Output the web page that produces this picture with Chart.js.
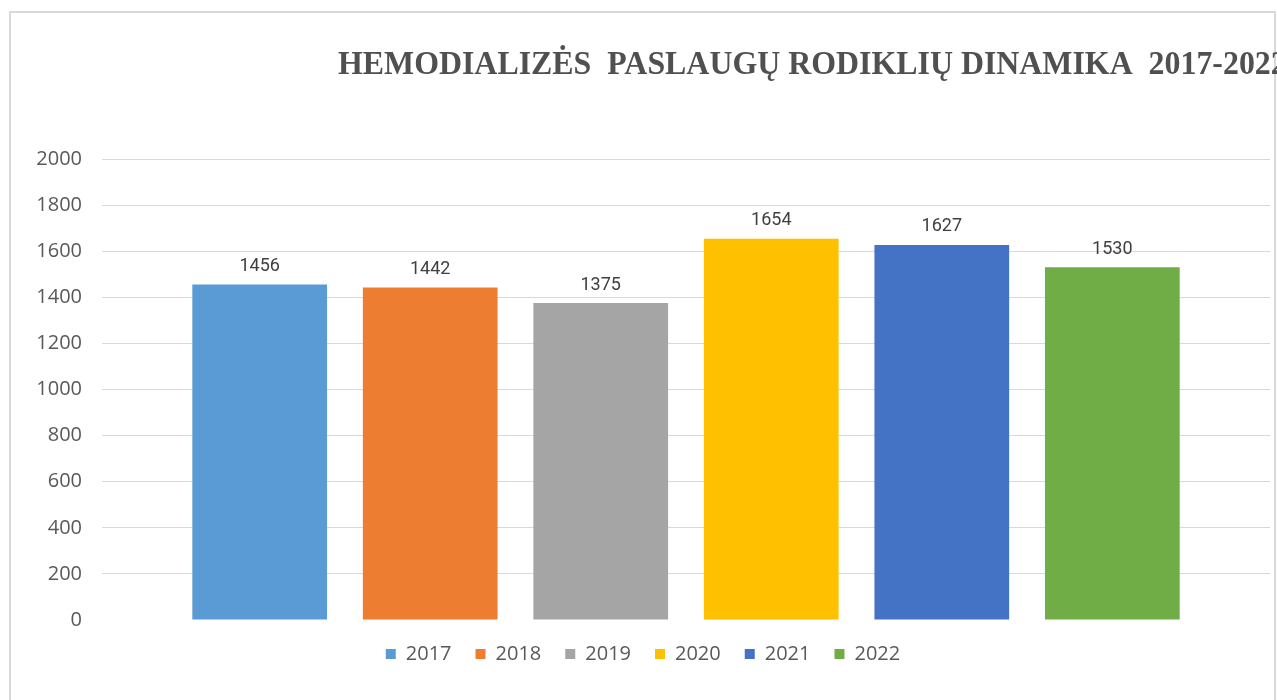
<!DOCTYPE html>
<html>
<head>
<meta charset="utf-8">
<script src="https://cdn.jsdelivr.net/npm/chart.js@4/dist/chart.umd.min.js"></script>
<style>
  html, body { margin: 0; padding: 0; background: #ffffff; }
  #wrap { position: relative; width: 1277px; height: 700px; }
  canvas { display: block; }
</style>
</head>
<body>
<div id="wrap"><canvas id="c" width="1277" height="700"></canvas></div>
<script>
const titleText = 'HEMODIALIZĖS  PASLAUGŲ RODIKLIŲ DINAMIKA  2017-2022';
const years = ['2017', '2018', '2019', '2020', '2021', '2022'];
const values = [1456, 1442, 1375, 1654, 1627, 1530];
const colors = ['#5B9BD5', '#ED7D31', '#A5A5A5', '#FFC000', '#4472C4', '#70AD47'];
const yTicks = [0, 200, 400, 600, 800, 1000, 1200, 1400, 1600, 1800, 2000];

const datasets = years.map((y, i) => ({
  label: y,
  data: [values[i]],
  backgroundColor: colors[i],
  borderWidth: 0,
  categoryPercentage: 0.876,
  barPercentage: 0.79
}));

const frameAndTitle = {
  id: 'frameAndTitle',
  beforeDraw(chart) {
    const ctx = chart.ctx;
    ctx.save();
    ctx.fillStyle = '#ffffff';
    ctx.fillRect(0, 0, chart.width, chart.height);
    ctx.strokeStyle = '#d9d9d9';
    ctx.lineWidth = 2;
    ctx.strokeRect(10, 12, 1265, 720);
    ctx.restore();
  },
  afterDraw(chart) {
    const ctx = chart.ctx;
    ctx.save();
    ctx.translate(338, 74);
    ctx.scale(0.966, 1);
    ctx.font = 'bold 33px "Liberation Serif", "Times New Roman", serif';
    ctx.fillStyle = '#505050';
    ctx.textAlign = 'left';
    ctx.textBaseline = 'alphabetic';
    ctx.fillText(titleText, 0, 0);
    ctx.restore();
  }
};

const valueLabels = {
  id: 'valueLabels',
  afterDatasetsDraw(chart) {
    const ctx = chart.ctx;
    ctx.save();
    ctx.font = '18px "Liberation Sans Narrow", "Roboto", sans-serif';
    ctx.fillStyle = '#404040';
    ctx.textAlign = 'center';
    ctx.textBaseline = 'middle';
    chart.data.datasets.forEach((ds, i) => {
      const meta = chart.getDatasetMeta(i);
      meta.data.forEach((bar, j) => {
        ctx.fillText(String(ds.data[j]), bar.x, bar.y - 18);
      });
    });
    ctx.restore();
  }
};

new Chart(document.getElementById('c'), {
  type: 'bar',
  data: { labels: [''], datasets },
  plugins: [frameAndTitle, valueLabels],
  options: {
    responsive: false,
    animation: false,
    layout: { padding: { top: 159, left: 16, right: 7, bottom: 26 } },
    plugins: {
      title: { display: false },
      tooltip: { enabled: false },
      legend: {
        position: 'bottom',
        labels: {
          boxWidth: 10,
          boxHeight: 10,
          padding: 24,
          color: '#595959',
          font: { family: '"Open Sans", sans-serif', size: 20 }
        }
      }
    },
    scales: {
      x: { display: false },
      y: {
        min: 0,
        max: 2000,
        afterFit(scale) { scale.width = 86; },
        afterBuildTicks(scale) { scale.ticks = yTicks.map(v => ({ value: v })); },
        border: { display: false },
        grid: {
          drawTicks: false,
          lineWidth: 1,
          color: ctx => (ctx.tick && ctx.tick.value === 0) ? 'rgba(0,0,0,0)' : '#d9d9d9'
        },
        ticks: {
          padding: 20,
          color: '#595959',
          font: { family: '"Open Sans", sans-serif', size: 20 },
          callback: v => String(v)
        }
      }
    }
  }
});
</script>
</body>
</html>
